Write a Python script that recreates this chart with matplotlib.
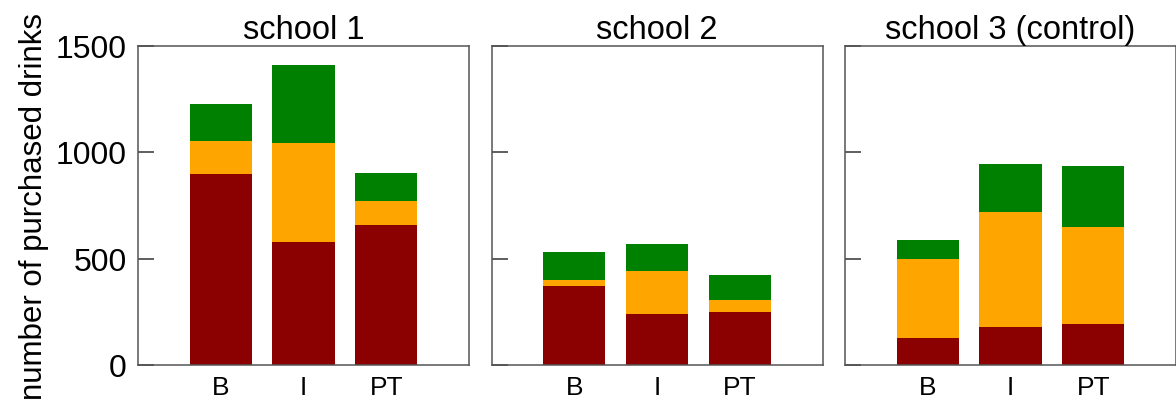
import matplotlib
matplotlib.use("Agg")
import matplotlib.pyplot as plt
import numpy as np

plt.rcParams["font.family"] = ["Liberation Sans", "DejaVu Sans"]

schools = ["school 1", "school 2", "school 3 (control)"]
categories = ["B", "I", "PT"]
# segment values per school (bottom: red, middle: orange, top: green)
red = [[895, 576, 656], [369, 238, 250], [125, 177, 191]]
orange = [[155, 464, 112], [30, 205, 55], [374, 543, 457]]
green = [[175, 367, 133], [130, 127, 116], [86, 225, 288]]

colors = ["#8B0000", "#FFA500", "#008000"]

fig = plt.figure(figsize=(11.76, 4.10), dpi=100)
W, H = 1176, 410
lefts = [138, 491.5, 845]
width = 331
bottom_px, top_px = 366, 46.5

x = np.arange(len(categories))
for i, name in enumerate(schools):
    ax = fig.add_axes([lefts[i] / W, 1 - bottom_px / H, width / W, (bottom_px - top_px) / H])
    r = np.array(red[i])
    o = np.array(orange[i])
    g = np.array(green[i])
    ax.bar(x, r, width=0.75, color=colors[0])
    ax.bar(x, o, width=0.75, bottom=r, color=colors[1])
    ax.bar(x, g, width=0.75, bottom=r + o, color=colors[2])
    ax.set_xlim(-1, 3)
    ax.set_ylim(0, 1500)
    ax.set_yticks([0, 500, 1000, 1500])
    ax.set_xticks(x)
    ax.set_xticklabels(categories, fontsize=19)
    ax.tick_params(axis="x", length=0, pad=7)
    ax.tick_params(axis="y", direction="in", length=11.5, width=1.1, color="#333333",
                   labelsize=23, pad=8)
    if i > 0:
        ax.set_yticklabels([])
    else:
        ax.set_ylabel("number of purchased drinks", fontsize=22.5, labelpad=5)
    for s in ax.spines.values():
        s.set_color("#555555")
        s.set_linewidth(1.1)
    ax.set_title(name, fontsize=23.5, pad=5)

fig.savefig("out.png", dpi=100)
